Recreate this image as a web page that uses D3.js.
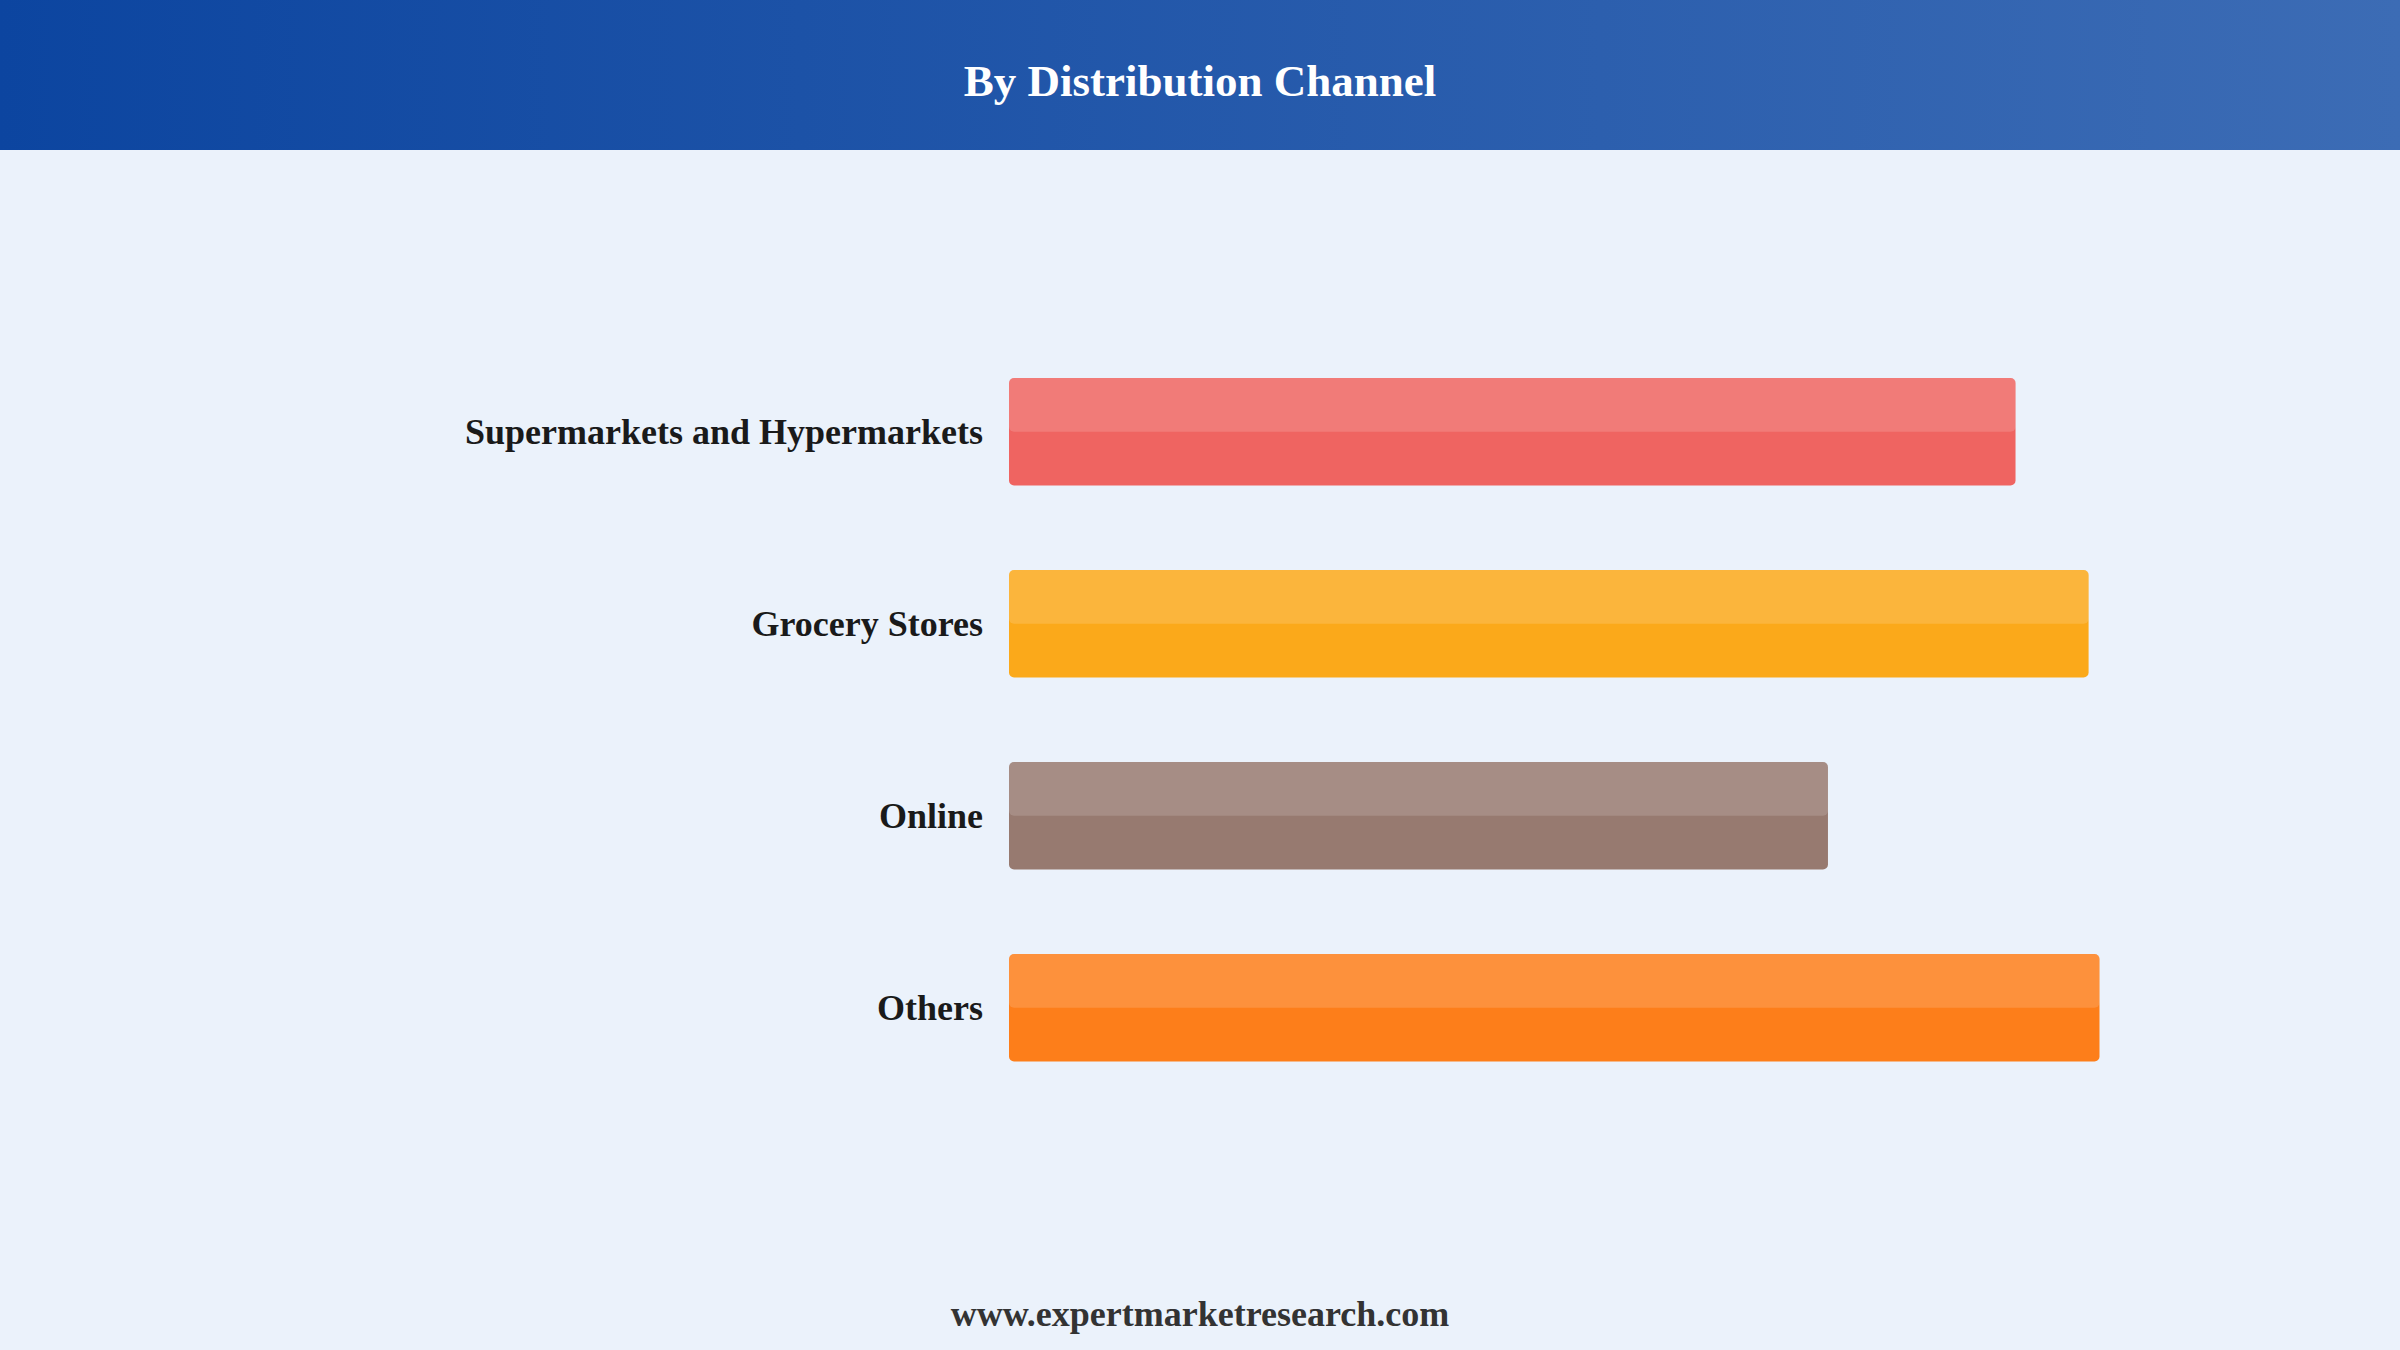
<!DOCTYPE html>
<html>
  <head>
    <script src="https://d3js.org/d3.v7.min.js"></script>
    <style>
      body { margin: 0; background-color: #ebf2fb; }
      svg { display: block; }
    </style>
  </head>
  <body>
    <svg id="canvas" width="2400" height="1350"></svg>
  </body>

  <script>
    // chart data
    const categories = ['Supermarkets and Hypermarkets', 'Grocery Stores', 'Online', 'Others']
    const values = [92.3, 99.0, 75.1, 100]
    const barColors = ['#ef6461', '#fba91a', '#977a70', '#fd7e1a']

    const title = 'By Distribution Channel'
    const footer = 'www.expertmarketresearch.com'

    const width = 2400
    const height = 1350
    const headerHeight = 150
    const serif = '"Liberation Serif", "Times New Roman", "DejaVu Serif", serif'

    const svg = d3.select('#canvas')

    // background + header gradient
    svg.append('rect').attr('width', width).attr('height', height).attr('fill', '#ebf2fb')

    const defs = svg.append('defs')
    const grad = defs.append('linearGradient').attr('id', 'headGrad')
      .attr('x1', '0%').attr('x2', '100%').attr('y1', '0%').attr('y2', '0%')
    grad.append('stop').attr('offset', '0%').attr('stop-color', '#0c45a0')
    grad.append('stop').attr('offset', '100%').attr('stop-color', '#3c6cb5')

    svg.append('rect').attr('width', width).attr('height', headerHeight).attr('fill', 'url(#headGrad)')

    svg.append('text')
      .attr('x', width / 2).attr('y', 96)
      .attr('text-anchor', 'middle')
      .attr('font-family', serif).attr('font-weight', 'bold').attr('font-size', 45)
      .attr('fill', '#ffffff')
      .text(title)

    // scales
    const x = d3.scaleLinear().domain([0, 100]).range([1009, 2099.5])
    const y = d3.scaleBand().domain(categories).range([186, 1253.5])
      .paddingInner(0.44).paddingOuter(1)

    const rows = categories.map((c, i) => ({ cat: c, value: values[i], color: barColors[i] }))

    const g = svg.append('g').attr('id', 'bars')

    // base bars
    g.selectAll('rect.bar').data(rows).enter()
      .append('rect')
        .classed('bar', true)
        .attr('x', x(0))
        .attr('y', d => y(d.cat))
        .attr('width', d => x(d.value) - x(0))
        .attr('height', y.bandwidth())
        .attr('rx', 5)
        .attr('fill', d => d.color)

    // light top half
    g.selectAll('rect.shine').data(rows).enter()
      .append('rect')
        .classed('shine', true)
        .attr('x', x(0))
        .attr('y', d => y(d.cat))
        .attr('width', d => x(d.value) - x(0))
        .attr('height', y.bandwidth() / 2)
        .attr('rx', 5)
        .attr('fill', '#ffffff')
        .attr('fill-opacity', 0.15)

    // category labels
    g.selectAll('text.label').data(rows).enter()
      .append('text')
        .classed('label', true)
        .attr('x', x(0) - 26)
        .attr('y', d => y(d.cat) + y.bandwidth() / 2)
        .attr('dy', '0.33em')
        .attr('text-anchor', 'end')
        .attr('font-family', serif).attr('font-weight', 'bold').attr('font-size', 36)
        .attr('fill', '#1a1a1a')
        .text(d => d.cat)

    svg.append('text')
      .attr('x', width / 2).attr('y', 1326)
      .attr('text-anchor', 'middle')
      .attr('font-family', serif).attr('font-weight', 'bold').attr('font-size', 36)
      .attr('fill', '#333333')
      .text(footer)
  </script>
</html>
